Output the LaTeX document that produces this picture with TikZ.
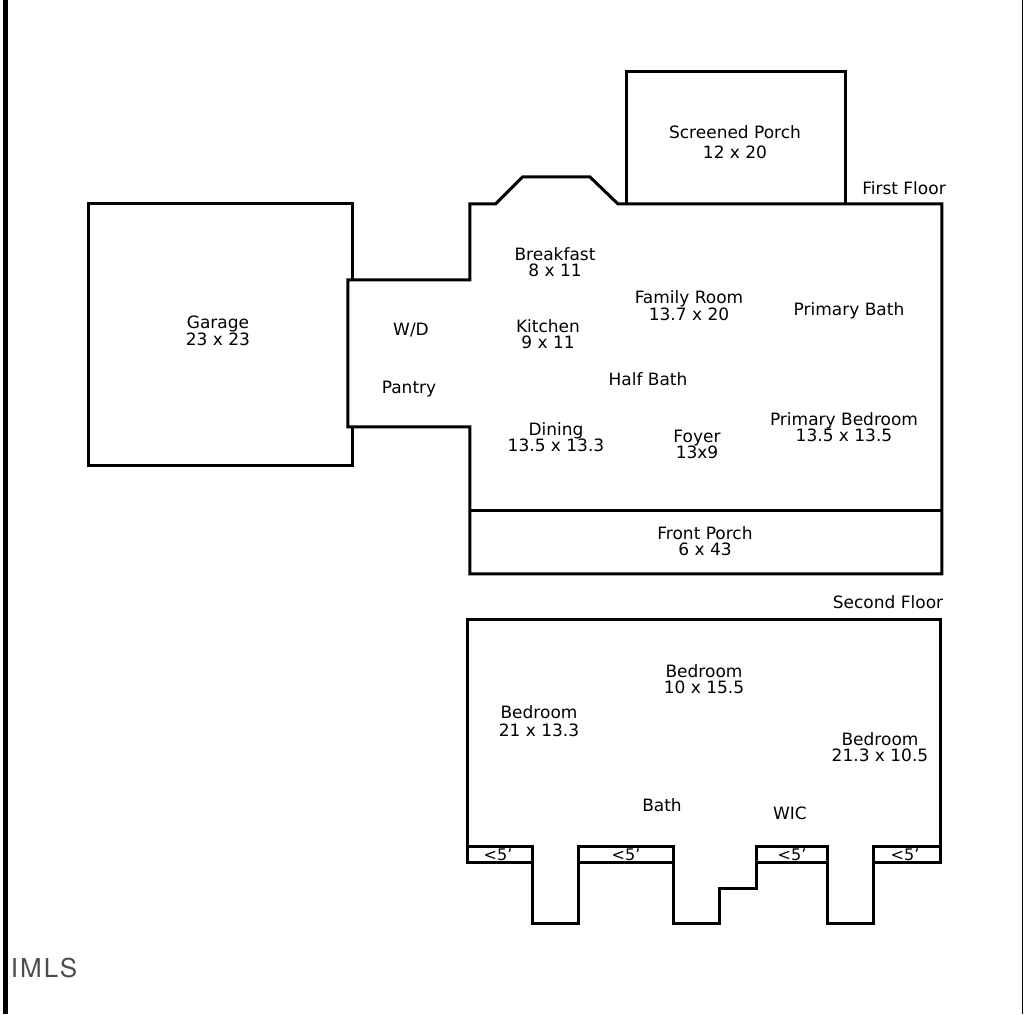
\documentclass[tikz,border=0pt]{standalone}
\usepackage{fontspec}
\setmainfont{DejaVu Sans}
\newfontfamily\mlsfont[LetterSpace=8]{TeX Gyre Heros}
\tikzset{
wall/.style = {draw, line width=3pt, line join=miter, xshift=-0.2pt, yshift=0.2pt},
room/.style = {align=center, inner sep=0pt, font=\fontsize{17}{16.6}\selectfont},
small/.style = {inner sep=0pt, font=\fontsize{16}{16}\selectfont}
}

\begin{document}
\begin{tikzpicture}[x=1pt, y=-1pt]
  \useasboundingbox (0,0) rectangle (1024,1014);
  % page edges
  \draw [line width=5pt] (5,0) -- (5,1014);
  \draw [line width=1pt] (1022,0) -- (1022,1014);

  % first floor
  \draw [wall] (353,280) -- (353,204) -- (89,204) -- (89,466) -- (353,466) -- (353,427);
  \draw [wall] (348,280) -- (470,280) -- (470,204) -- (496,204) -- (523,177) -- (590,177) -- (618,204)
    -- (942,204) -- (942,574) -- (470,574) -- (470,427) -- (348,427) -- cycle;
  \draw [wall] (470,511) -- (942,511);
  \draw [wall] (627,204) -- (627,72) -- (846,72) -- (846,204);

  % second floor
  \draw [wall] (468,847) -- (468,620) -- (941,620) -- (941,863) -- (874,863) -- (874,924) -- (828,924)
    -- (828,847) -- (757,847) -- (757,889) -- (720,889) -- (720,924) -- (674,924) -- (674,847)
    -- (579,847) -- (579,924) -- (533,924) -- (533,847) -- cycle;
  \draw [wall] (468,847) -- (468,863) -- (533,863);
  \draw [wall] (579,863) -- (674,863);
  \draw [wall] (757,863) -- (828,863) -- (828,847);
  \draw [wall] (874,863) -- (874,847) -- (941,847);

  % labels
  \node [room] (porch)     at (735,142) {Screened Porch\\[3pt]12 x 20};
  \node [room] (firstfl)   at (904,188.5) {First Floor};
  \node [room] (breakfast) at (555,262) {Breakfast\\8 x 11};
  \node [room] (garage)    at (218,331) {Garage\\23 x 23};
  \node [room] (wd)        at (411,330.5) {W/D};
  \node [room] (pantry)    at (409,389.5) {Pantry};
  \node [room] (kitchen)   at (548,334) {Kitchen\\9 x 11};
  \node [room] (family)    at (689,305.5) {Family Room\\13.7 x 20};
  \node [room] (pbath)     at (849,310.5) {Primary Bath};
  \node [room] (halfbath)  at (648,379.5) {Half Bath};
  \node [room] (dining)    at (556,437) {Dining\\13.5 x 13.3};
  \node [room] (foyer)     at (697,444.5) {Foyer\\13x9};
  \node [room] (pbed)      at (844,427) {Primary Bedroom\\13.5 x 13.5};
  \node [room] (front)     at (705,541) {Front Porch\\6 x 43};
  \node [room] (secondfl)  at (888,602) {Second Floor};
  \node [room] (bedb)      at (704,679) {Bedroom\\10 x 15.5};
  \node [room] (beda)      at (539,721.5) {Bedroom\\[1.5pt]21 x 13.3};
  \node [room] (bedc)      at (880,747) {Bedroom\\21.3 x 10.5};
  \node [room] (bath)      at (662,805.5) {Bath};
  \node [room] (wic)       at (790,813.5) {WIC};
  \node [small] (lta) at (498,855) {<5'};
  \node [small] (ltb) at (626,855) {<5'};
  \node [small] (ltc) at (792,855) {<5'};
  \node [small] (ltd) at (905,855) {<5'};
  \node [inner sep=0pt, font=\fontsize{26}{26}\selectfont\mlsfont, color=black!70] (mls) at (44,968) {IMLS};
\end{tikzpicture}
\end{document}
